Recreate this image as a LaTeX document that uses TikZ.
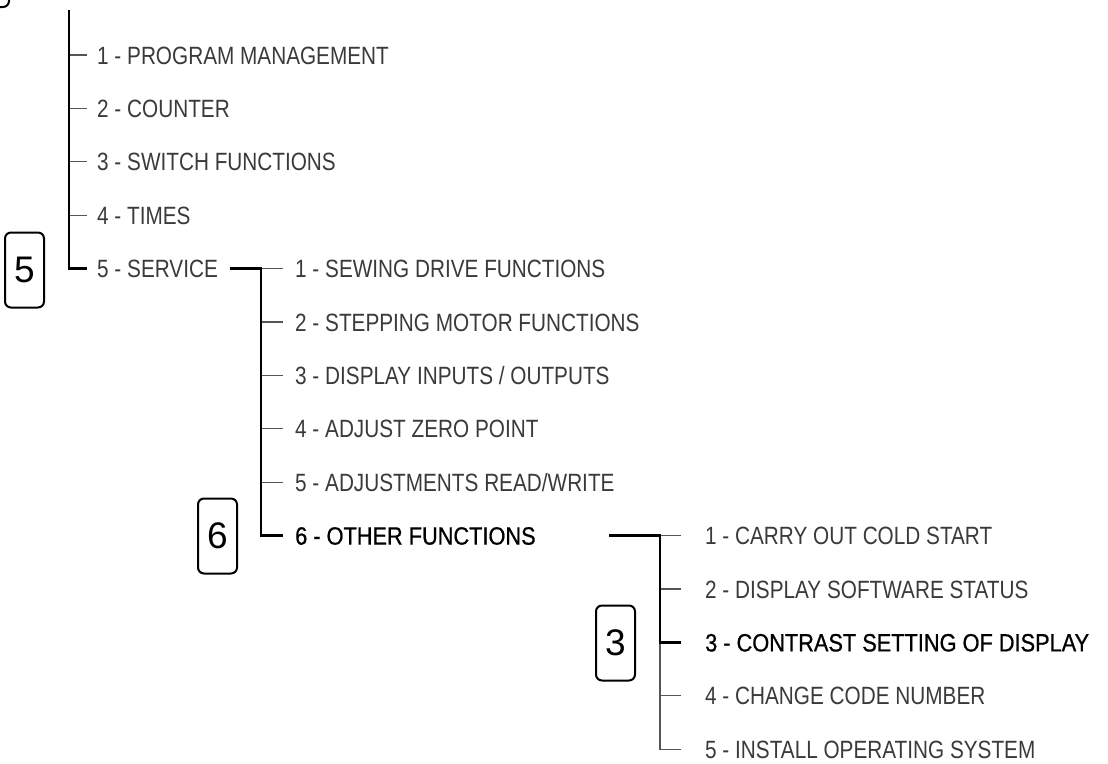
\documentclass[tikz,border=0pt]{standalone}
\usepackage{fontspec}
\setmainfont{Liberation Sans}[FakeStretch=0.83]
\newfontfamily\curfont{Liberation Sans}[FakeStretch=0.87, FakeBold=0.7]
\newfontfamily\digitfont{Liberation Sans}
\usetikzlibrary{positioning}
\definecolor{ink}{HTML}{3A3A3A}
\definecolor{twiggray}{HTML}{555555}

\begin{document}
\begin{tikzpicture}[
  x=1pt, y=-1pt,
  every node/.style={font=\fontsize{25}{30}\selectfont, text=ink},
  entry/.style={anchor=west, inner ysep=0pt, text height=18pt, text depth=0pt},
  lvlone/.style={entry, inner xsep=10pt},
  lvltwo/.style={entry, inner xsep=12pt},
  lvlthree/.style={entry, inner xsep=24pt},
  current/.style={text=black, font=\curfont\fontsize{25}{30}\selectfont},
  numbox/.style={draw=black, line width=2pt, rounded corners=6pt, minimum width=39pt, minimum height=75pt, inner sep=0pt, font=\digitfont\fontsize{37}{37}\selectfont, text=black},
  trunk/.style={draw=black, line width=2.4pt},
  twig/.style={draw=twiggray, line width=1.2pt}
]
\useasboundingbox (0,0) rectangle (1108,763);
\clip (0,0) rectangle (1108,763);

% main menu
\coordinate (j1) at (69,10);
\node[lvlone] (p1) at (87,55) {1 - PROGRAM MANAGEMENT};
\node[lvlone] (p2) at (87,108.4) {2 - COUNTER};
\node[lvlone] (p3) at (87,161.8) {3 - SWITCH FUNCTIONS};
\node[lvlone] (p4) at (87,215.2) {4 - TIMES};
\node[lvlone] (p5) at (87,268.6) {5 - SERVICE};

% service menu
\coordinate (s5out) at (230,268.6);
\coordinate (j2) at (261,268.6);
\node[lvltwo] (q1) at (283,268.6) {1 - SEWING DRIVE FUNCTIONS};
\node[lvltwo] (q2) at (283,322) {2 - STEPPING MOTOR FUNCTIONS};
\node[lvltwo] (q3) at (283,375.4) {3 - DISPLAY INPUTS / OUTPUTS};
\node[lvltwo] (q4) at (283,428.8) {4 - ADJUST ZERO POINT};
\node[lvltwo] (q5) at (283,482.2) {5 - ADJUSTMENTS READ/WRITE};
\node[lvltwo, current] (q6) at (283,535.6) {6 - OTHER FUNCTIONS};

% other functions
\coordinate (o6out) at (609,535.6);
\coordinate (j3) at (660,535.6);
\node[lvlthree] (r1) at (681,535.6) {1 - CARRY OUT COLD START};
\node[lvlthree] (r2) at (681,589) {2 - DISPLAY SOFTWARE STATUS};
\node[lvlthree, current] (r3) at (681,642.4) {3 - CONTRAST SETTING OF DISPLAY};
\node[lvlthree] (r4) at (681,695.8) {4 - CHANGE CODE NUMBER};
\node[lvlthree] (r5) at (681,749.2) {5 - INSTALL OPERATING SYSTEM};

% key boxes
\node[numbox, anchor=south east] (box0) at (10,8) {};
\node[numbox, anchor=east] (box5) at (45,270) {5};
\node[numbox, anchor=east] (box6) at (238,536) {6};
\node[numbox, anchor=east] (box3) at (636,643) {3};

\draw[twig] (j1 |- p1.west) -- (p1.west);
\draw[twig] (j1 |- p2.west) -- (p2.west);
\draw[twig] (j1 |- p3.west) -- (p3.west);
\draw[twig] (j1 |- p4.west) -- (p4.west);
\draw[trunk] (j1) -- (j1 |- p5.west) -- (p5.west);

\draw[twig] (j2) -- (q1.west);
\draw[twig] (j2 |- q2.west) -- (q2.west);
\draw[twig] (j2 |- q3.west) -- (q3.west);
\draw[twig] (j2 |- q4.west) -- (q4.west);
\draw[twig] (j2 |- q5.west) -- (q5.west);
\draw[trunk] (s5out) -- (j2) -- (j2 |- q6.west) -- (q6.west);

\draw[twig] (j3) -- (r1.west);
\draw[twig] (j3 |- r2.west) -- (r2.west);
\draw[twig] (j3 |- r4.west) -- (r4.west);
\draw[twig] (j3 |- r3.west) -- (j3 |- r5.west) -- (r5.west);
\draw[trunk] (o6out) -- (j3) -- (j3 |- r3.west) -- (r3.west);
\end{tikzpicture}
\end{document}
